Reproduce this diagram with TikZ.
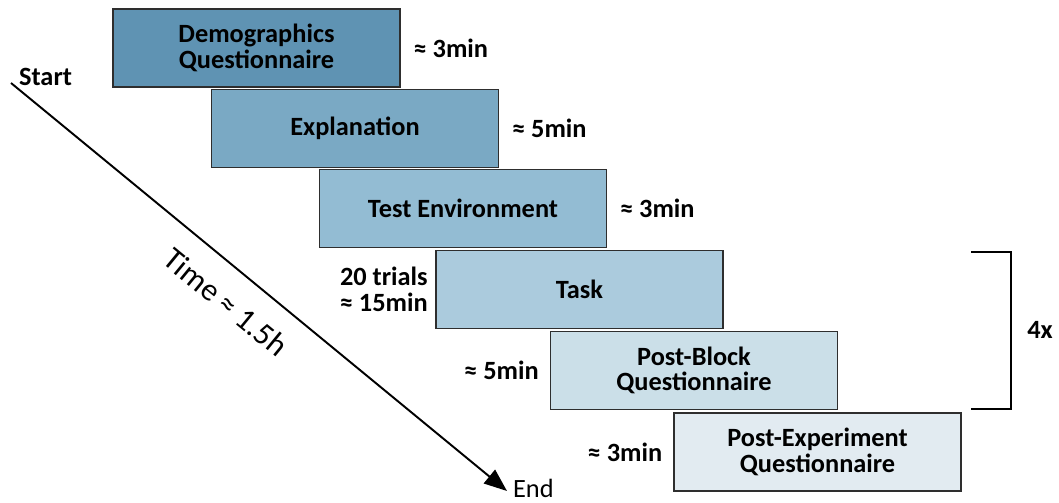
\documentclass[tikz,border=0pt]{standalone}
\usepackage{fontspec}
\setmainfont{Carlito}
\usetikzlibrary{positioning,arrows.meta}

\definecolor{stepA}{HTML}{5F93B3}
\definecolor{stepB}{HTML}{7AA9C4}
\definecolor{stepC}{HTML}{93BCD3}
\definecolor{stepD}{HTML}{ABCBDD}
\definecolor{stepE}{HTML}{CBDFE8}
\definecolor{stepF}{HTML}{E2EBF1}
\definecolor{edge}{HTML}{2E2E2E}

\newcommand{\figsize}{\fontsize{15}{14.5}\selectfont}

\tikzset{
  stage/.style={draw=edge, line width=1.1pt, minimum width=5.74cm, minimum height=1.56cm,
    align=center, inner sep=2pt, font=\figsize\bfseries},
  dur/.style={inner sep=1pt, align=right, font=\figsize\bfseries},
  axislabel/.style={inner sep=1pt, font=\figsize},
}

\begin{document}
\begin{tikzpicture}[x=0.02cm, y=-0.02cm]
  \useasboundingbox (0,0) rectangle (1059,503);
  % the six stages, each one shifted down and to the right
  \node[stage, fill=stepA] (demo) at (256.5,48) {Demographics\\Questionnaire};
  \node[stage, fill=stepB] (expl) at (355,128.5) {Explanation};
  \node[stage, fill=stepC] (test) at (463,208.5) {Test Environment};
  \node[stage, fill=stepD] (task) at (579.5,289.5) {Task};
  \node[stage, fill=stepE] (block) at (694,370.5) {Post-Block\\Questionnaire};
  \node[stage, fill=stepF] (exper) at (817.5,452) {Post-Experiment\\Questionnaire};
  % durations
  \node[dur, right=6pt of demo] (tdemo) {≈ 3min};
  \node[dur, right=6pt of expl] (texpl) {≈ 5min};
  \node[dur, right=6pt of test] (ttest) {≈ 3min};
  \node[dur, left=3pt of task] (ttask) {20 trials\\≈ 15min};
  \node[dur, left=5pt of block] (tblock) {≈ 5min};
  \node[dur, left=5pt of exper] (texper) {≈ 3min};
  % time axis
  \coordinate (t0) at (11,83);
  \coordinate (t1) at (507,491);
  \draw[line width=1.1pt, -{Triangle[length=13pt, width=10pt]}] (t0) -- (t1);
  \node[dur, anchor=west] (start) at (17,77) {Start};
  \node[axislabel, anchor=west] (end) at (511,488) {End};
  \node[axislabel, font=\fontsize{18}{18}\selectfont, rotate=-39.4] (total) at (226,302) {Time ≈ 1.5h};
  % repeated block
  \coordinate (rtop) at (971,252);
  \coordinate (rbot) at (971,409);
  \draw[line width=1.1pt] (rtop) -- ++(40,0) |- (rbot);
  \node[dur] (reps) at (1040,330) {4x};
\end{tikzpicture}
\end{document}
